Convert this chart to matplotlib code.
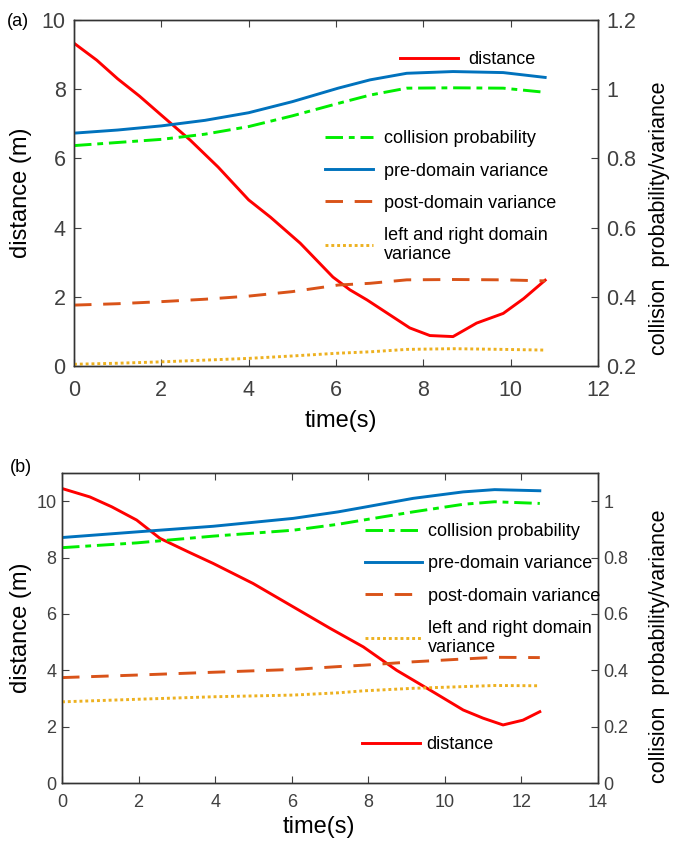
import numpy as np
import matplotlib
matplotlib.use("Agg")
import matplotlib.pyplot as plt
from matplotlib.lines import Line2D

plt.rcParams['font.family'] = ['Liberation Sans', 'DejaVu Sans']

# ---- panel (a) data ----
ta_dist = [0, 0.52, 1.0, 1.5, 2.0, 2.66, 3.3, 4.0, 4.5, 5.18, 5.93, 6.32, 6.71, 7.17, 7.69, 8.15, 8.68, 9.22, 9.83, 10.3, 10.79]
a_dist = [9.33, 8.84, 8.3, 7.8, 7.25, 6.53, 5.75, 4.8, 4.3, 3.55, 2.57, 2.2, 1.91, 1.53, 1.1, 0.88, 0.85, 1.24, 1.52, 1.95, 2.48]

ta = [0, 1, 2, 3, 4, 5, 6.05, 6.78, 7.62, 8.68, 9.83, 10.79]
a_coll = [0.837, 0.846, 0.855, 0.870, 0.892, 0.923, 0.959, 0.983, 1.003, 1.004, 1.003, 0.991]
a_pre = [0.873, 0.882, 0.894, 0.910, 0.932, 0.964, 1.003, 1.027, 1.046, 1.051, 1.048, 1.034]
a_post = [0.376, 0.380, 0.386, 0.393, 0.402, 0.415, 0.434, 0.439, 0.449, 0.450, 0.449, 0.446]
a_lr = [0.205, 0.208, 0.212, 0.217, 0.222, 0.229, 0.237, 0.241, 0.248, 0.250, 0.248, 0.246]

# ---- panel (b) data ----
tb_dist = [0, 0.73, 1.3, 1.95, 2.56, 3.3, 3.95, 4.99, 6.04, 7.0, 7.87, 8.74, 9.61, 10.48, 11.0, 11.52, 12.04, 12.48]
b_dist = [10.45, 10.15, 9.8, 9.33, 8.68, 8.2, 7.79, 7.08, 6.25, 5.49, 4.83, 4.0, 3.30, 2.59, 2.3, 2.06, 2.23, 2.53]

tb = [0, 1.95, 3.95, 6.04, 7.21, 7.87, 9.17, 10.48, 11.3, 12.48]
b_coll = [0.835, 0.852, 0.876, 0.897, 0.918, 0.933, 0.962, 0.989, 0.998, 0.992]
b_pre = [0.871, 0.891, 0.911, 0.939, 0.962, 0.978, 1.010, 1.033, 1.041, 1.037]
b_post = [0.374, 0.383, 0.393, 0.403, 0.413, 0.418, 0.430, 0.440, 0.446, 0.445]
b_lr = [0.288, 0.297, 0.306, 0.312, 0.320, 0.327, 0.336, 0.342, 0.346, 0.345]

red = '#ff0000'
blue = '#0072bd'
green = '#00ee00'
orange = '#d95319'
yellow = '#edb120'
spine_c = '#333333'
tick_c = '#404040'
lw = 2.1

fig = plt.figure(figsize=(6.74, 8.47), dpi=100)


def style(ax, ax2, fs, xpad, ypad):
    for a in (ax, ax2):
        for s in a.spines.values():
            s.set_color(spine_c)
            s.set_linewidth(1.0)
    ax.tick_params(axis='x', direction='in', top=True, length=5, labelsize=fs, colors=tick_c, pad=xpad)
    ax.tick_params(axis='y', direction='in', length=5, labelsize=fs, colors=tick_c, pad=ypad)
    ax2.tick_params(axis='y', direction='in', length=5, labelsize=fs, colors=tick_c, pad=ypad)


def draw(ax, ax2, t_d, dist, t, coll, pre, post, lr):
    ax2.plot(t, coll, color=green, lw=lw, dashes=(6, 2, 2, 2))
    ax2.plot(t, pre, color=blue, lw=lw)
    ax2.plot(t, post, color=orange, lw=lw, dashes=(6, 4))
    ax2.plot(t, lr, color=yellow, lw=lw, linestyle=(0, (1, 1)))
    ax.plot(t_d, dist, color=red, lw=lw)


def legends(ax2, pos_main, pos_dist, fs, hl, pad):
    h = [Line2D([], [], color=green, lw=lw, dashes=(6, 2, 2, 2)),
         Line2D([], [], color=blue, lw=lw),
         Line2D([], [], color=orange, lw=lw, dashes=(6, 4)),
         Line2D([], [], color=yellow, lw=lw, linestyle=(0, (1, 1)))]
    labs = ['collision probability', 'pre-domain variance', 'post-domain variance',
            'left and right domain\nvariance']
    leg = ax2.legend(h, labs, loc='upper left', bbox_to_anchor=pos_main, frameon=False,
                     fontsize=fs, handlelength=hl, handletextpad=pad, labelspacing=0.84,
                     borderaxespad=0, borderpad=0)
    ax2.add_artist(leg)
    hd = [Line2D([], [], color=red, lw=lw)]
    ax2.legend(hd, ['distance'], loc='upper left', bbox_to_anchor=pos_dist, frameon=False,
               fontsize=fs, handlelength=3.2, handletextpad=pad, borderaxespad=0, borderpad=0)


# panel (a)
ax = fig.add_axes([74 / 674, 1 - 366 / 847, 524 / 674, 346 / 847])
ax2 = ax.twinx()
draw(ax, ax2, ta_dist, a_dist, ta, a_coll, a_pre, a_post, a_lr)
ax.set_xlim(0, 12)
ax.set_ylim(0, 10)
ax2.set_ylim(0.2, 1.2)
ax.set_xticks([0, 2, 4, 6, 8, 10, 12])
ax.set_yticks([0, 2, 4, 6, 8, 10])
ax2.set_yticks([0.2, 0.4, 0.6, 0.8, 1.0, 1.2])
ax2.set_yticklabels(['0.2', '0.4', '0.6', '0.8', '1', '1.2'])
style(ax, ax2, 15.5, 10, 6)
ax.set_xlabel('time(s)', fontsize=17)
ax.xaxis.set_label_coords(0.51, -0.128)
ax.set_ylabel('distance (m)', fontsize=17)
ax.yaxis.set_label_coords(-0.08, 0.5)
ax2.set_ylabel('collision  probability/variance', fontsize=15.5)
ax2.yaxis.set_label_coords(1.098, 0.428)
legends(ax2, (0.479, 0.681), (0.622, 0.91), 13, 2.65, 0.6)
fig.text(0.01, 0.975, '(a)', fontsize=13, va='center')

# panel (b)
bx = fig.add_axes([62 / 674, 1 - 783 / 847, 536 / 674, 310 / 847])
bx2 = bx.twinx()
draw(bx, bx2, tb_dist, b_dist, tb, b_coll, b_pre, b_post, b_lr)
bx.set_xlim(0, 14)
bx.set_ylim(0, 11)
bx2.set_ylim(0, 1.1)
bx.set_xticks([0, 2, 4, 6, 8, 10, 12, 14])
bx.set_yticks([0, 2, 4, 6, 8, 10])
bx2.set_yticks([0, 0.2, 0.4, 0.6, 0.8, 1.0])
bx2.set_yticklabels(['0', '0.2', '0.4', '0.6', '0.8', '1'])
style(bx, bx2, 13, 8, 4)
bx.set_xlabel('time(s)', fontsize=17)
bx.xaxis.set_label_coords(0.48, -0.105)
bx.set_ylabel('distance (m)', fontsize=17)
bx.yaxis.set_label_coords(-0.056, 0.5)
bx2.set_ylabel('collision  probability/variance', fontsize=15.5)
bx2.yaxis.set_label_coords(1.096, 0.44)
legends(bx2, (0.565, 0.838), (0.56, 0.151), 13, 3.15, 0.35)
fig.text(0.015, 0.448, '(b)', fontsize=13, va='center')

fig.savefig('out.png', dpi=100)
